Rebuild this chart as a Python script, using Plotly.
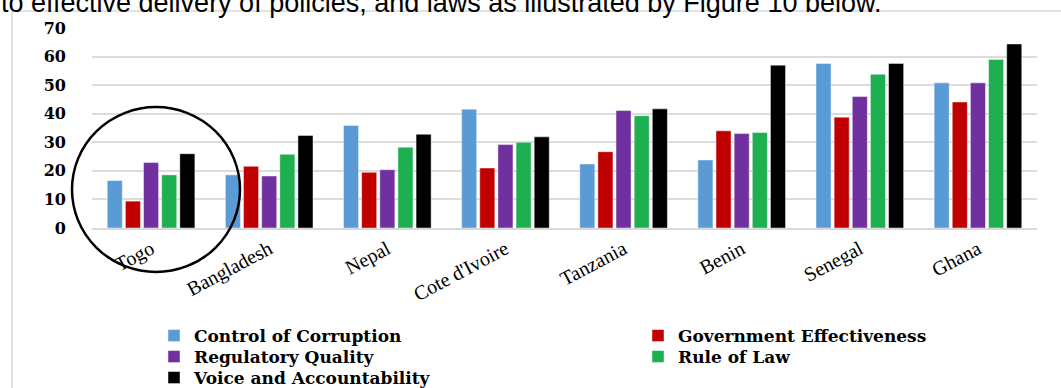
import plotly.graph_objects as go

countries = ["Togo", "Bangladesh", "Nepal", "Cote d'Ivoire", "Tanzania", "Benin", "Senegal", "Ghana"]
control_of_corruption = [16.6, 18.6, 35.9, 41.6, 22.4, 23.8, 57.6, 50.8]
government_effectiveness = [9.4, 21.6, 19.5, 21.0, 26.7, 34.0, 38.8, 44.1]
regulatory_quality = [22.9, 18.2, 20.4, 29.2, 41.1, 33.1, 46.0, 50.8]
rule_of_law = [18.6, 25.8, 28.3, 30.0, 39.3, 33.4, 53.8, 59.0]
voice_and_accountability = [26.0, 32.4, 32.8, 31.9, 41.7, 57.0, 57.6, 64.4]
y_ticks = [0, 10, 20, 30, 40, 50, 60, 70]

W, H = 1061, 388
L, R, T, B = 92, 24, 28, 160
pw, ph = W - L - R, H - T - B

def px(x):
    return (x - L) / pw

def py(y):
    return (H - B - y) / ph

# (name, values, colour, legend id, legend left px, legend top px)
series = [
    ("Control of Corruption", control_of_corruption, "#5B9BD5", "legend", 154, 318),
    ("Government Effectiveness", government_effectiveness, "#C00000", "legend2", 638, 318),
    ("Regulatory Quality", regulatory_quality, "#7030A0", "legend3", 154, 339),
    ("Rule of Law", rule_of_law, "#1DAF50", "legend4", 638, 339),
    ("Voice and Accountability", voice_and_accountability, "#000000", "legend5", 154, 360),
]

legend_font = dict(family="DejaVu Serif", size=17, color="#000000", weight="bold")

fig = go.Figure()
legends = {}
for name, vals, color, lg, lx, ly in series:
    fig.add_trace(go.Bar(
        x=countries, y=vals, name=name, legend=lg,
        marker=dict(color=color, line=dict(color="rgba(255,255,255,0.45)", width=1)),
    ))
    legends[lg] = dict(x=px(lx), y=py(ly), xanchor="left", yanchor="top",
                       orientation="v", font=legend_font, bgcolor="rgba(0,0,0,0)",
                       itemclick=False)

fig.update_layout(
    width=W, height=H,
    margin=dict(l=L, r=R, t=T, b=B, pad=0, autoexpand=False),
    paper_bgcolor="white", plot_bgcolor="white",
    barmode="group", bargap=0.232, bargroupgap=0.17,
    showlegend=True,
    **legends,
    xaxis=dict(
        tickangle=-28, automargin=False,
        tickfont=dict(family="Liberation Serif", size=20, color="#000000"),
        showgrid=False, showline=True, linecolor="#D9D9D9", linewidth=1.5,
        ticks="",
    ),
    yaxis=dict(
        range=[0, 70], tickvals=y_ticks, automargin=False,
        tickfont=dict(family="DejaVu Serif", size=16, color="#000000", weight="bold"),
        showgrid=True, gridcolor="#DCDCDC", gridwidth=1.5,
        zeroline=False, showline=False, ticks="",
        ticklabelstandoff=25,
    ),
    shapes=[
        dict(type="line", xref="paper", yref="paper", x0=px(12), x1=px(1061), y0=py(11), y1=py(11),
             line=dict(color="#D9D9D9", width=1.5), layer="below"),
        dict(type="line", xref="paper", yref="paper", x0=px(12), x1=px(12), y0=py(11), y1=py(388),
             line=dict(color="#D9D9D9", width=1.5), layer="below"),
        dict(type="circle", xref="paper", yref="paper", x0=px(72), x1=px(240), y0=py(272), y1=py(107),
             line=dict(color="#000000", width=2.5), layer="above"),
    ],
    annotations=[
        dict(text="to effective delivery of policies, and laws as illustrated by Figure 10 below.",
             xref="paper", yref="paper", x=px(-1), y=py(20), xanchor="left", yanchor="bottom",
             showarrow=False, font=dict(family="Liberation Sans", size=27, color="#000000")),
    ],
)

fig.write_html("out.html")
